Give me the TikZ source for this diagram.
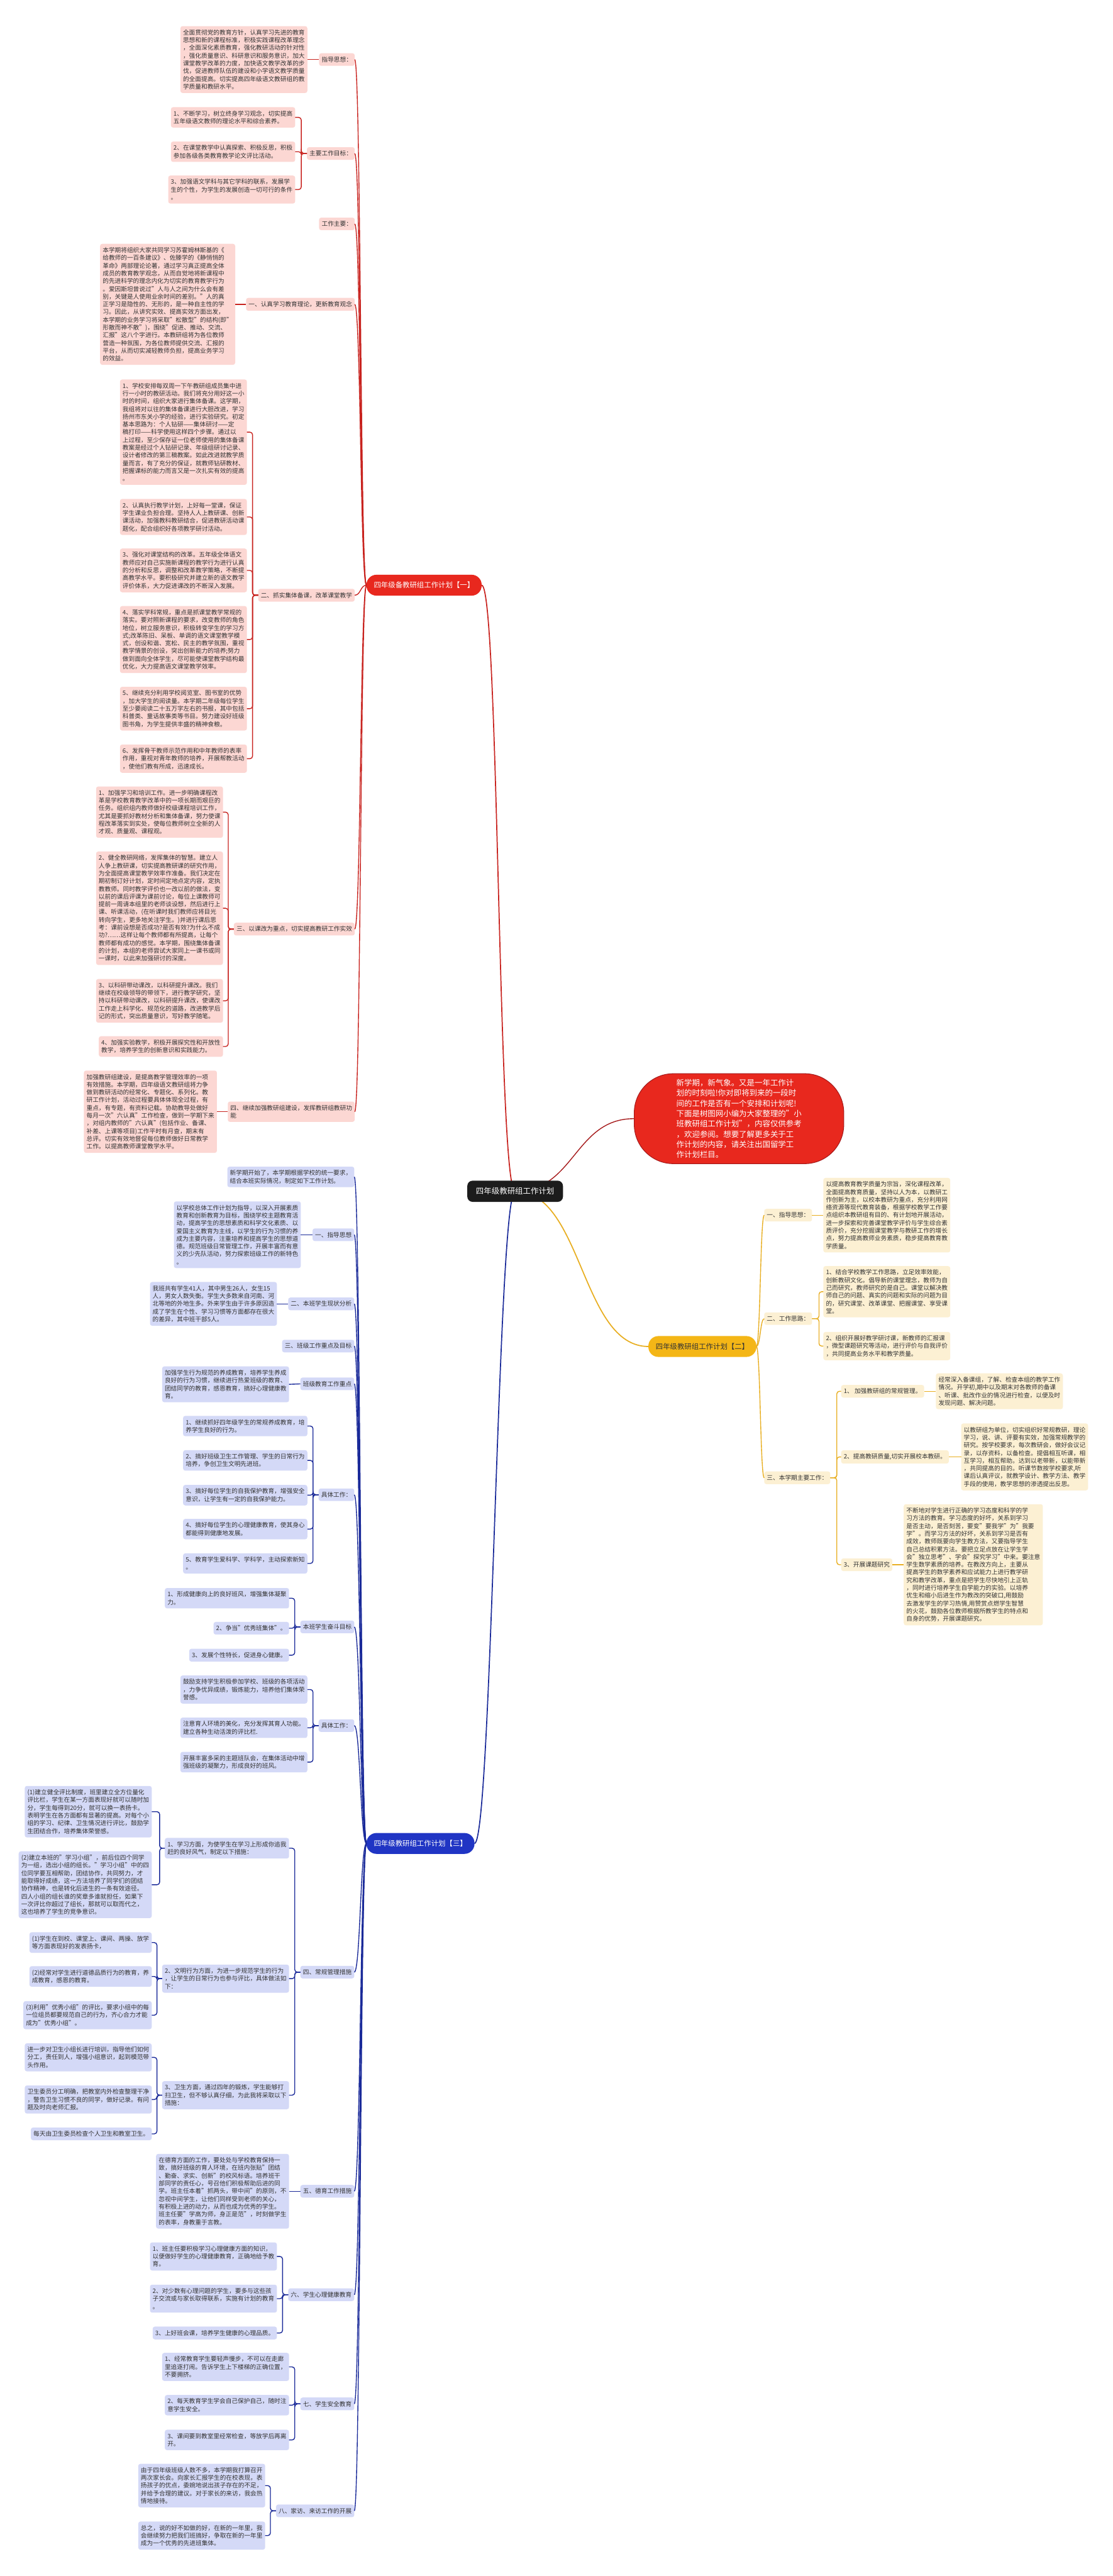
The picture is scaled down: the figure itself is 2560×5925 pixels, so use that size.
\documentclass[tikz,border=0pt]{standalone}
\usepackage{fontspec}
\setmainfont{Noto Sans CJK SC}
\usepackage{tikz}
\usetikzlibrary{backgrounds}

\definecolor{hongxian}{HTML}{C8231F}
\definecolor{hongdi}{HTML}{FCD7D3}
\definecolor{hongzhi}{HTML}{E8281E}
\definecolor{shenhong}{HTML}{A5191A}
\definecolor{lanxian}{HTML}{1A2A99}
\definecolor{landi}{HTML}{D4D9F7}
\definecolor{lanzhi}{HTML}{2035C4}
\definecolor{huangxian}{HTML}{E8AE20}
\definecolor{huangdi}{HTML}{FCF0D3}
\definecolor{huangzhi}{HTML}{F4B616}
\definecolor{genzhi}{HTML}{1C1C1C}
\definecolor{wenzi}{HTML}{333333}

\begin{document}
\begin{tikzpicture}[x=1pt, y=-1pt,
    card/.style={rounded corners=5pt, inner xsep=6pt, inner ysep=8pt, outer sep=0pt,
      align=left, text=wenzi, font=\fontsize{14}{17.8}\selectfont},
    redbox/.style={card, fill=hongdi},
    bluebox/.style={card, fill=landi},
    yelbox/.style={card, fill=huangdi},
    branch/.style={rounded corners=23pt, minimum height=48pt, inner xsep=17pt,
      outer sep=0pt, font=\fontsize{16.5}{20}\selectfont},
    redline/.style={draw=hongxian, line width=2pt, rounded corners=6pt},
    blueline/.style={draw=lanxian, line width=2pt, rounded corners=6pt},
    yelline/.style={draw=huangxian, line width=2pt, rounded corners=6pt}]

  \useasboundingbox (0,0) rectangle (2560,5925);

  \node[rounded corners=12pt, fill=genzhi, text=white, inner xsep=20pt, inner ysep=16pt,
    font=\fontsize{18}{22}\selectfont] (root) at (1185,2740) {四年级教研组工作计划};

  \node[rounded corners=90pt, fill=hongzhi, draw=shenhong, line width=1.5pt, text=white,
    minimum width=482pt, minimum height=207pt, align=left,
    font=\fontsize{18}{23.6}\selectfont] (intro) at (1700,2573)
    {新学期，新气象。又是一年工作计\\划的时刻啦!你对即将到来的一段时\\间的工作是否有一个安排和计划呢!\\下面是树图网小编为大家整理的"小\\班教研组工作计划"，内容仅供参考\\，欢迎参阅。想要了解更多关于工\\作计划的内容，请关注出国留学工\\作计划栏目。};

  %% 【一】
  \node[branch, fill=hongzhi, text=white, anchor=west] (plan1) at (843,1346) {四年级备教研组工作计划【一】};

  \node[redbox, anchor=east] (zd1) at (816,137) {指导思想：};
  \node[redbox, anchor=east] (zd1t) at (707,137) {全面贯彻党的教育方针，认真学习先进的教育\\思想和新的课程标准，积极实践课程改革理念\\，全面深化素质教育，强化教研活动的针对性\\，强化质量意识、科研意识和服务意识，加大\\课堂教学改革的力度，加快语文教学改革的步\\伐，促进教师队伍的建设和小学语文教学质量\\的全面提高。切实提高四年级语文教研组的教\\学质量和教研水平。};

  \node[redbox, anchor=east] (mb1) at (816,353) {主要工作目标：};
  \node[redbox, anchor=east] (mb1a) at (679,270) {1、不断学习，树立终身学习观念，切实提高\\五年级语文教师的理论水平和综合素养。};
  \node[redbox, anchor=east] (mb1b) at (679,349) {2、在课堂教学中认真探索、积极反思，积极\\参加各级各类教育教学论文评比活动。};
  \node[redbox, anchor=east] (mb1c) at (679,436) {3、加强语文学科与其它学科的联系，发展学\\生的个性，为学生的发展创造一切可行的条件\\。};

  \node[redbox, anchor=east] (zy1) at (816,515) {工作主要：};

  \node[redbox, anchor=east] (xl1) at (816,700) {一、认真学习教育理论，更新教育观念};
  \node[redbox, anchor=east] (xl1t) at (541,700) {本学期将组织大家共同学习苏霍姆林斯基的《\\给教师的一百条建议》、佐滕学的《静悄悄的\\革命》两部理论论著，通过学习真正提高全体\\成员的教育教学观念，从而自觉地将新课程中\\的先进科学的理念内化为切实的教育教学行为\\。爱因斯坦曾说过"人与人之间为什么会有差\\别，关键是人使用业余时间的差别。"人的真\\正学习是隐性的、无形的，是一种自主性的学\\习。因此，从讲究实效、提高实效方面出发，\\本学期的业务学习将采取"松散型"的结构(即"\\形散而神不散")，围绕"促进、推动、交流、\\汇报"这八个字进行。本教研组将为各位教师\\营造一种氛围，为各位教师提供交流、汇报的\\平台，从而切实减轻教师负担，提高业务学习\\的效益。};

  \node[redbox, anchor=east] (bk1) at (816,1369) {二、抓实集体备课，改革课堂教学};
  \node[redbox, anchor=east] (bk1a) at (568,994) {1、学校安排每双周一下午教研组成员集中进\\行一小时的教研活动。我们将充分用好这一小\\时的时间，组织大家进行集体备课。这学期，\\我组将对以往的集体备课进行大胆改进，学习\\扬州市东关小学的经验，进行实验研究。初定\\基本思路为：个人钻研——集体研讨——定\\稿打印——科学使用这样四个步骤。通过以\\上过程，至少保存证一位老师使用的集体备课\\教案是经过个人钻研记录、年级组研讨记录、\\设计者修改的第三稿教案。如此改进就教学质\\量而言，有了充分的保证，就教师钻研教材、\\把握课标的能力而言又是一次扎实有效的提高\\。};
  \node[redbox, anchor=east] (bk1b) at (568,1189) {2、认真执行教学计划，上好每一堂课，保证\\学生课业负担合理。坚持人人上教研课、创新\\课活动，加强教科教研结合，促进教研活动课\\题化，配合组织好各项教学研讨活动。};
  \node[redbox, anchor=east] (bk1c) at (568,1312) {3、强化对课堂结构的改革。五年级全体语文\\教师应对自己实施新课程的教学行为进行认真\\的分析和反思，调整和改革教学策略，不断提\\高教学水平。要积极研究并建立新的语文教学\\评价体系，大力促进课改的不断深入发展。};
  \node[redbox, anchor=east] (bk1d) at (568,1471) {4、落实学科常规，重点是抓课堂教学常规的\\落实。要对照新课程的要求，改变教师的角色\\地位，树立服务意识，积极转变学生的学习方\\式;改革陈旧、呆板、单调的语文课堂教学模\\式，创设和谐、宽松、民主的教学氛围，重视\\教学情景的创设，突出创新能力的培养;努力\\做到面向全体学生，尽可能使课堂教学结构最\\优化，大力提高语文课堂教学效率。};
  \node[redbox, anchor=east] (bk1e) at (568,1630) {5、继续充分利用学校阅览室、图书室的优势\\，加大学生的阅读量。本学期二年级每位学生\\至少要阅读二十五万字左右的书报，其中包括\\科普类、童话故事类等书目。努力建设好班级\\图书角，为学生提供丰盛的精神食粮。};
  \node[redbox, anchor=east] (bk1f) at (568,1745) {6、发挥骨干教师示范作用和中年教师的表率\\作用，重视对青年教师的培养，开展帮教活动\\，使他们教有所成，迅速成长。};

  \node[redbox, anchor=east] (kg1) at (816,2137) {三、以课改为重点，切实提高教研工作实效};
  \node[redbox, anchor=east] (kg1a) at (513,1868) {1、加强学习和培训工作。进一步明确课程改\\革是学校教育教学改革中的一项长期而艰巨的\\任务。组织组内教师做好校级课程培训工作，\\尤其是要抓好教材分析和集体备课，努力使课\\程改革落实到实处，使每位教师树立全新的人\\才观、质量观、课程观。};
  \node[redbox, anchor=east] (kg1b) at (513,2089) {2、健全教研网络，发挥集体的智慧。建立人\\人争上教研课，切实提高教研课的研究作用，\\为全面提高课堂教学效率作准备。我们决定在\\期初制订好计划，定时间定地点定内容，定执\\教教师。同时教学评价也一改以前的做法，变\\以前的课后评课为课前讨论，每位上课教师可\\提前一周请本组里的老师谈设想，然后进行上\\课、听课活动，(在听课时我们教师应将目光\\转向学生，更多地关注学生。)并进行课后思\\考：课前设想是否成功?是否有效?为什么不成\\功?……这样让每个教师都有所提高，让每个\\教师都有成功的感觉。本学期，围绕集体备课\\的计划，本组的老师尝试大家同上一课书或同\\一课时，以此来加强研讨的深度。};
  \node[redbox, anchor=east] (kg1c) at (513,2302) {3、以科研带动课改，以科研提升课改。我们\\继续在校级领导的带领下，进行教学研究，坚\\持以科研带动课改，以科研提升课改，使课改\\工作走上科学化、规范化的道路，改进教学后\\记的形式，突出质量意识，写好教学随笔。};
  \node[redbox, anchor=east] (kg1d) at (513,2407) {4、加强实验教学，积极开展探究性和开放性\\教学，培养学生的创新意识和实践能力。};

  \node[redbox, anchor=east] (js1) at (816,2557) {四、继续加强教研组建设，发挥教研组教研功\\能};
  \node[redbox, anchor=east] (js1t) at (499,2557) {加强教研组建设，是提高教学管理效率的一项\\有效措施。本学期，四年级语文教研组将力争\\做到教研活动的经常化、专题化、系列化。教\\研工作计划，活动过程要具体体现全过程，有\\重点，有专题，有资料记载。协助教导处做好\\每月一次"六认真"工作检查，做到一学期下来\\，对组内教师的"六认真"(包括作业、备课、\\补差、上课等项目)工作平时有月查，期末有\\总评。切实有效地督促每位教师做好日常教学\\工作。以提高教师课堂教学水平。};

  \foreach \c in {zd1,mb1,zy1,xl1,bk1,kg1,js1}
    \draw[redline] (plan1.west) .. controls +(-14,0) and +(14,0) .. (\c.east);
  \draw[redline] (zd1.west) -- (zd1t.east);
  \draw[redline] (xl1.west) -- (xl1t.east);
  \draw[redline] (js1.west) -- (js1t.east);
  \foreach \c in {mb1a,mb1b,mb1c}
    \draw[redline] (mb1.west) -- ++(-13,0) |- (\c.east);
  \foreach \c in {bk1a,bk1b,bk1c,bk1d,bk1e,bk1f}
    \draw[redline] (bk1.west) -- ++(-13,0) |- (\c.east);
  \foreach \c in {kg1a,kg1b,kg1c,kg1d}
    \draw[redline] (kg1.west) -- ++(-13,0) |- (\c.east);

  %% 【二】
  \node[branch, fill=huangzhi, text=wenzi, anchor=east] (plan2) at (1740,3097) {四年级教研组工作计划【二】};

  \node[yelbox, anchor=west] (zd2) at (1758,2795) {一、指导思想：};
  \node[yelbox, anchor=west] (zd2t) at (1894,2795) {以提高教育教学质量为宗旨，深化课程改革，\\全面提高教育质量，坚持以人为本，以教研工\\作创新为主，以校本教研为重点，充分利用网\\络资源等现代教育装备，根据学校教学工作要\\点组织本教研组有目的、有计划地开展活动，\\进一步探索和完善课堂教学评价与学生综合素\\质评价，充分挖掘课堂教学与教研工作的增长\\点，努力提高教师业务素质，稳步提高教育教\\学质量。};

  \node[yelbox, anchor=west] (sl2) at (1758,3033) {二、工作思路：};
  \node[yelbox, anchor=west] (sl2a) at (1894,2971) {1、结合学校教学工作思路，立足效率效能，\\创新教研文化。倡导新的课堂理念，教师为自\\己而研究，教师研究的是自己。课堂以解决教\\师自己的问题、真实的问题和实际的问题为目\\的，研究课堂、改革课堂、把握课堂、享受课\\堂。};
  \node[yelbox, anchor=west] (sl2b) at (1894,3096) {2、组织开展好教学研讨课，新教师的汇报课\\，微型课题研究等活动，进行评价与自我评价\\，共同提高业务水平和教学质量。};

  \node[yelbox, anchor=west] (gz2) at (1758,3399) {三、本学期主要工作：};
  \node[yelbox, anchor=west] (gz2a) at (1935,3200) {1、 加强教研组的常规管理。};
  \node[yelbox, anchor=west] (gz2at) at (2153,3200) {经常深入备课组，了解、检查本组的教学工作\\情况。开学初,期中以及期末对各教师的备课\\、听课、批改作业的情况进行检查，以便及时\\发现问题、解决问题。};
  \node[yelbox, anchor=west] (gz2b) at (1935,3351) {2、提高教研质量,切实开展校本教研。};
  \node[yelbox, anchor=west] (gz2bt) at (2211,3351) {以教研组为单位，切实组织好常规教研，理论\\学习，说、讲、评要有实效，加强常规教学的\\研究。按学校要求，每次教研会，做好会议记\\录，以存资料，以备检查。提倡相互听课，相\\互学习，相互帮助。达到以老带新，以能带新\\，共同提高的目的。听课节数按学校要求,听\\课后认真评议，就教学设计、教学方法、教学\\手段的使用，教学思想的渗透提出反思。};
  \node[yelbox, anchor=west] (gz2c) at (1935,3599) {3、开展课题研究};
  \node[yelbox, anchor=west] (gz2ct) at (2079,3599) {不断地对学生进行正确的学习态度和科学的学\\习方法的教育。学习态度的好坏，关系到学习\\是否主动，是否刻苦，要变"要我学"为"我要\\学"。而学习方法的好坏，关系到学习是否有\\成效，教师既要向学生教方法，又要指导学生\\自己总结积累方法。要把立足点放在让学生学\\会"独立思考"、学会"探究学习"中来。要注意\\学生数学素质的培养。在教改方向上，主要从\\提高学生的数学素养和应试能力上进行教学研\\究和教学改革，重点是把学生尽快地引上正轨\\，同时进行培养学生自学能力的实验。以培养\\优生和缩小后进生作为教改的突破口,用鼓励\\去激发学生的学习热情,用赞赏点燃学生智慧\\的火花，鼓励各位教师根据所教学生的特点和\\自身的优势，开展课题研究。};

  \foreach \c in {zd2,sl2,gz2}
    \draw[yelline] (plan2.east) .. controls +(9,0) and +(-9,0) .. (\c.west);
  \draw[yelline] (zd2.east) -- (zd2t.west);
  \foreach \c in {sl2a,sl2b}
    \draw[yelline] (sl2.east) -- ++(16,0) |- (\c.west);
  \foreach \c in {gz2a,gz2b,gz2c}
    \draw[yelline] (gz2.east) -- ++(15,0) |- (\c.west);
  \draw[yelline] (gz2a.east) -- (gz2at.west);
  \draw[yelline] (gz2b.east) -- (gz2bt.west);
  \draw[yelline] (gz2c.east) -- (gz2ct.west);

  %% 【三】
  \node[branch, fill=lanzhi, text=white, anchor=west] (plan3) at (843,4240) {四年级教研组工作计划【三】};

  \node[bluebox, anchor=east] (kt3) at (815,2707) {新学期开始了，本学期根据学校的统一要求，\\结合本班实际情况，制定如下工作计划。};

  \node[bluebox, anchor=east] (zd3) at (815,2840) {一、指导思想};
  \node[bluebox, anchor=east] (zd3t) at (692,2840) {以学校总体工作计划为指导，以深入开展素质\\教育和创新教育为目标，围绕学校主题教育活\\动，提高学生的思想素质和科学文化素质、以\\爱国主义教育为主线，以学生的行为习惯的养\\成为主要内容，注重培养和提高学生的思想道\\德。规范班级日常管理工作，开展丰富而有意\\义的少先队活动，努力探索班级工作的新特色\\。};

  \node[bluebox, anchor=east] (xz3) at (815,2999) {二、本班学生现状分析};
  \node[bluebox, anchor=east] (xz3t) at (637,2999) {我班共有学生41人，其中男生26人，女生15\\人，男女人数失衡。学生大多数来自河南、河\\北等地的外地生多。外来学生由于许多原因造\\成了学生在个性、学习习惯等方面都存在很大\\的差异，其中班干部5人。};

  \node[bluebox, anchor=east] (mb3) at (815,3096) {三、班级工作重点及目标};

  \node[bluebox, anchor=east] (jy3) at (815,3183) {班级教育工作重点};
  \node[bluebox, anchor=east] (jy3t) at (665,3184) {加强学生行为规范的养成教育，培养学生养成\\良好的行为习惯，继续进行热爱班级的教育、\\团结同学的教育，感恩教育，搞好心理健康教\\育。};

  \node[bluebox, anchor=east] (jt3) at (815,3438) {具体工作：};
  \node[bluebox, anchor=east] (jt3a) at (707,3280) {1、继续抓好四年级学生的常规养成教育，培\\养学生良好的行为。};
  \node[bluebox, anchor=east] (jt3b) at (707,3359) {2、搞好班级卫生工作管理、学生的日常行为\\培养，争创卫生文明先进班。};
  \node[bluebox, anchor=east] (jt3c) at (707,3439) {3、搞好每位学生的自我保护教育，增强安全\\意识，让学生有一定的自我保护能力。};
  \node[bluebox, anchor=east] (jt3d) at (707,3517) {4、搞好每位学生的心理健康教育，使其身心\\都能得到健康地发展。};
  \node[bluebox, anchor=east] (jt3e) at (707,3596) {5、教育学生爱科学、学科学，主动探索新知\\。};

  \node[bluebox, anchor=east] (fd3) at (815,3742) {本班学生奋斗目标};
  \node[bluebox, anchor=east] (fd3a) at (665,3676) {1、形成健康向上的良好班风，增强集体凝聚\\力。};
  \node[bluebox, anchor=east] (fd3b) at (665,3745) {2、争当"优秀班集体"。};
  \node[bluebox, anchor=east] (fd3c) at (665,3807) {3、发展个性特长，促进身心健康。};

  \node[bluebox, anchor=east] (jw3) at (815,3969) {具体工作：};
  \node[bluebox, anchor=east] (jw3a) at (707,3886) {鼓励支持学生积极参加学校、班级的各项活动\\，力争优异成绩，锻炼能力，培养他们集体荣\\誉感。};
  \node[bluebox, anchor=east] (jw3b) at (707,3974) {注意育人环境的美化，充分发挥其育人功能。\\建立各种生动活泼的评比栏.};
  \node[bluebox, anchor=east] (jw3c) at (707,4053) {开展丰富多采的主题班队会，在集体活动中增\\强班级的凝聚力，形成良好的班风。};

  \node[bluebox, anchor=east] (cg3) at (815,4536) {四、常规管理措施};
  \node[bluebox, anchor=east] (cg3a) at (665,4251) {1、学习方面，为使学生在学习上形成你追我\\赶的良好风气，制定以下措施：};
  \node[bluebox, anchor=east] (cg3a1) at (349,4167) {(1)建立健全评比制度，班里建立全方位量化\\评比栏，学生在某一方面表现好就可以随时加\\分，学生每得到20分，就可以换一表扬卡。\\表明学生在各方面都有显著的提高。对每个小\\组的学习、纪律、卫生情况进行评比，鼓励学\\生团结合作，培养集体荣誉感。};
  \node[bluebox, anchor=east] (cg3a2) at (349,4335) {(2)建立本班的"学习小组"，前后位四个同学\\为一组，选出小组的组长。"学习小组"中的四\\位同学要互相帮助，团结协作，共同努力，才\\能取得好成绩，这一方法培养了同学们的团结\\协作精神，也是转化后进生的一条有效途径。\\四人小组的组长谁的奖章多谁就担任，如果下\\一次评比你超过了组长，那就可以取而代之，\\这也培养了学生的竞争意识。};
  \node[bluebox, anchor=east] (cg3b) at (665,4551) {2、文明行为方面，为进一步规范学生的行为\\，让学生的日常行为也参与评比，具体做法如\\下：};
  \node[bluebox, anchor=east] (cg3b1) at (349,4468) {(1)学生在到校、课堂上、课间、两操、放学\\等方面表现好的发表扬卡，};
  \node[bluebox, anchor=east] (cg3b2) at (349,4546) {(2)经常对学生进行道德品质行为的教育，养\\成教育，感恩的教育。};
  \node[bluebox, anchor=east] (cg3b3) at (349,4635) {(3)利用"优秀小组"的评比，要求小组中的每\\一位组员都要规范自己的行为，齐心合力才能\\成为"优秀小组"。};
  \node[bluebox, anchor=east] (cg3c) at (665,4819) {3、卫生方面，通过四年的锻炼，学生能够打\\扫卫生，但不够认真仔细，为此我将采取以下\\措施：};
  \node[bluebox, anchor=east] (cg3c1) at (349,4732) {进一步对卫生小组长进行培训，指导他们如何\\分工，责任到人，增强小组意识，起到模范带\\头作用。};
  \node[bluebox, anchor=east] (cg3c2) at (349,4829) {卫生委员分工明确，把教室内外检查整理干净\\，警告卫生习惯不良的同学，做好记录。有问\\题及时向老师汇报。};
  \node[bluebox, anchor=east] (cg3c3) at (349,4908) {每天由卫生委员检查个人卫生和教室卫生。};

  \node[bluebox, anchor=east] (dy3) at (815,5040) {五、德育工作措施};
  \node[bluebox, anchor=east] (dy3t) at (665,5040) {在德育方面的工作，要处处与学校教育保持一\\致，搞好班级的育人环境，在班内张贴"团结\\、勤奋、求实、创新"的校风标语。培养班干\\部同学的责任心，号召他们积极帮助后进的同\\学。班主任本着"抓两头，带中间"的原则，不\\忽视中间学生，让他们同样受到老师的关心，\\有积极上进的动力，从而也成为优秀的学生。\\班主任要"学高为师，身正是范"，时刻做学生\\的表率，身教重于言教。};

  \node[bluebox, anchor=east] (xl3) at (815,5278) {六、学生心理健康教育};
  \node[bluebox, anchor=east] (xl3a) at (637,5190) {1、班主任要积极学习心理健康方面的知识，\\以便做好学生的心理健康教育，正确地给予教\\育。};
  \node[bluebox, anchor=east] (xl3b) at (637,5287) {2、对少数有心理问题的学生，要多与这些孩\\子交流或与家长取得联系，实施有计划的教育\\。};
  \node[bluebox, anchor=east] (xl3c) at (637,5366) {3、上好班会课，培养学生健康的心理品质。};

  \node[bluebox, anchor=east] (aq3) at (815,5529) {七、学生安全教育};
  \node[bluebox, anchor=east] (aq3a) at (665,5444) {1、经常教育学生要轻声慢步，不可以在走廊\\里追逐打闹。告诉学生上下楼梯的正确位置，\\不要拥挤。};
  \node[bluebox, anchor=east] (aq3b) at (665,5532) {2、每天教育学生学会自己保护自己，随时注\\意学生安全。};
  \node[bluebox, anchor=east] (aq3c) at (665,5612) {3、课间要到教室里经常检查，等放学后再离\\开。};

  \node[bluebox, anchor=east] (jf3) at (815,5775) {八、家访、来访工作的开展};
  \node[bluebox, anchor=east] (jf3a) at (610,5717) {由于四年级班级人数不多，本学期我打算召开\\两次家长会。向家长汇报学生的在校表现，表\\扬孩子的优点，委婉地说出孩子存在的不足，\\并给予合理的建议。对于家长的来访，我会热\\情地接待。};
  \node[bluebox, anchor=east] (jf3b) at (610,5832) {总之，说的好不如做的好，在新的一年里，我\\会继续努力把我们班搞好，争取在新的一年里\\成为一个优秀的先进班集体。};

  \foreach \c in {kt3,zd3,xz3,mb3,jy3,jt3,fd3,jw3,cg3,dy3,xl3,aq3,jf3}
    \draw[blueline] (plan3.west) .. controls +(-14,0) and +(14,0) .. (\c.east);
  \draw[blueline] (zd3.west) -- (zd3t.east);
  \draw[blueline] (xz3.west) -- (xz3t.east);
  \draw[blueline] (jy3.west) -- (jy3t.east);
  \draw[blueline] (dy3.west) -- (dy3t.east);
  \foreach \c in {jt3a,jt3b,jt3c,jt3d,jt3e}
    \draw[blueline] (jt3.west) -- ++(-13,0) |- (\c.east);
  \foreach \c in {fd3a,fd3b,fd3c}
    \draw[blueline] (fd3.west) -- ++(-13,0) |- (\c.east);
  \foreach \c in {jw3a,jw3b,jw3c}
    \draw[blueline] (jw3.west) -- ++(-13,0) |- (\c.east);
  \foreach \c in {cg3a,cg3b,cg3c}
    \draw[blueline] (cg3.west) -- ++(-13,0) |- (\c.east);
  \foreach \c in {cg3a1,cg3a2}
    \draw[blueline] (cg3a.west) -- ++(-12,0) |- (\c.east);
  \foreach \c in {cg3b1,cg3b2,cg3b3}
    \draw[blueline] (cg3b.west) -- ++(-12,0) |- (\c.east);
  \foreach \c in {cg3c1,cg3c2,cg3c3}
    \draw[blueline] (cg3c.west) -- ++(-12,0) |- (\c.east);
  \foreach \c in {xl3a,xl3b,xl3c}
    \draw[blueline] (xl3.west) -- ++(-13,0) |- (\c.east);
  \foreach \c in {aq3a,aq3b,aq3c}
    \draw[blueline] (aq3.west) -- ++(-13,0) |- (\c.east);
  \foreach \c in {jf3a,jf3b}
    \draw[blueline] (jf3.west) -- ++(-13,0) |- (\c.east);

  % lines out of the root sit behind it
  \begin{scope}[on background layer]
    \fill[white] (0,0) rectangle (2560,5925);
    \draw[hongxian, line width=2.5pt] (root.center) .. controls +(-40,0) and +(40,0) .. (plan1.east);
    \draw[lanxian, line width=2.5pt] (root.center) .. controls +(-40,0) and +(40,0) .. (plan3.east);
    \draw[huangxian, line width=2.5pt] (root.center) .. controls +(155,0) and +(-155,0) .. (plan2.west);
    \draw[shenhong, line width=2pt] (root.center) .. controls +(137,0) and +(-137,0) .. (intro.west);
  \end{scope}
\end{tikzpicture}
\end{document}
